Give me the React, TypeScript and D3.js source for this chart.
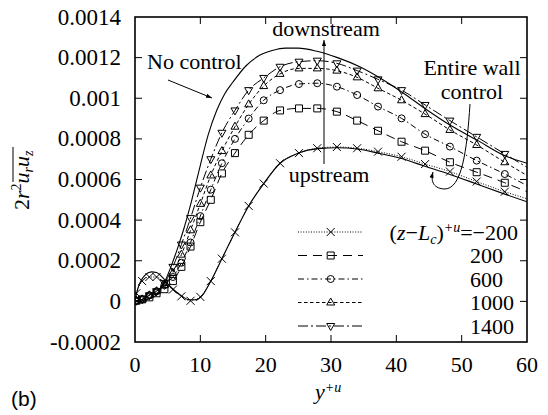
import React from "react";
import * as d3 from "d3";

// ---------- data ----------
const markerYp = [0.2, 1.1, 2.2, 3.3, 4.5, 5.8, 7.1, 8.5, 10.0, 11.6, 13.3, 15.3, 17.4, 19.7, 22.2, 25.1, 27.9, 30.9, 34.0, 37.2, 40.8, 44.4, 48.2, 52.3, 56.6, 60];

const seriesM200 = [0.00004, 0.0001, 0.00012, 0.00012, 0.00009, 0.000058, 0.000025, 0.000003, 0.000022, 0.0001, 0.00021, 0.00034, 0.00047, 0.00058, 0.00068, 0.00073, 0.000754, 0.00076, 0.000754, 0.000737, 0.000712, 0.000676, 0.000639, 0.00059, 0.00054, 0.000505];
const series200 = [0.000003, 0.00001, 0.00002, 0.00004, 0.00006, 0.0001, 0.00017, 0.00027, 0.00039, 0.0005, 0.00063, 0.00073, 0.00082, 0.00089, 0.00094, 0.00095, 0.00095, 0.000934, 0.00089, 0.00084, 0.000786, 0.000742, 0.000685, 0.000636, 0.000584, 0.00054];
const series600 = [0.000003, 0.00001, 0.00003, 0.00005, 0.00008, 0.00012, 0.00019, 0.00029, 0.00042, 0.00055, 0.00068, 0.0008, 0.0009, 0.00099, 0.00104, 0.00107, 0.001074, 0.001057, 0.001016, 0.000959, 0.000901, 0.000823, 0.000762, 0.000693, 0.000627, 0.00057];
const series1000 = [0.000003, 0.00001, 0.00003, 0.00005, 0.00008, 0.00014, 0.00023, 0.00035, 0.00048, 0.00062, 0.00074, 0.00086, 0.00097, 0.00106, 0.00112, 0.001147, 0.001147, 0.001136, 0.001103, 0.001049, 0.00099, 0.000922, 0.000844, 0.00077, 0.000685, 0.00062];
const series1400 = [0.000003, 0.00001, 0.00003, 0.00005, 0.00009, 0.00017, 0.00028, 0.00041, 0.00056, 0.0007, 0.00083, 0.00094, 0.00104, 0.0011, 0.001155, 0.00118, 0.001185, 0.001172, 0.001136, 0.001093, 0.00104, 0.000967, 0.00089, 0.00081, 0.000726, 0.00066];

const noControlYp = [0, 2, 3.5, 4.6, 5.5, 6.5, 7.5, 8.7, 10, 11.2, 12.5, 13.7, 15, 17, 19, 21, 23, 25, 28, 31, 34.4, 37.5, 41.1, 44.7, 48.2, 52.3, 56.4, 60];
const noControlVal = [0, 0.00001, 0.00004, 0.0001, 0.00017, 0.00026, 0.00036, 0.0005, 0.00067, 0.00082, 0.00094, 0.00102, 0.00108, 0.00116, 0.00121, 0.001235, 0.001247, 0.001247, 0.00123, 0.0012, 0.001155, 0.0011, 0.001025, 0.000942, 0.000868, 0.000795, 0.00072, 0.00068];

const entireYp = [0, 0.4, 0.9, 1.5, 2.5, 3.3, 4.2, 5.2, 6.2, 7.2, 8.3, 9.3, 10.3, 11.6, 13.3, 15.3, 17.4, 19.7, 22.2, 25, 28, 31, 34, 37.2, 40.8, 44.4, 48.2, 52.3, 56.6, 60];
const entireVal = [0, 0.00006, 0.0001, 0.000128, 0.000145, 0.000142, 0.000118, 0.00008, 0.00005, 0.000025, 0.000008, 0.000008, 0.00003, 0.0001, 0.00021, 0.00034, 0.00047, 0.00058, 0.00068, 0.00073, 0.000752, 0.000756, 0.00075, 0.00073, 0.000703, 0.000665, 0.000625, 0.000578, 0.000528, 0.00049];

const legendLabels = ["-200", "200", "600", "1000", "1400"];
const xTicks = [0, 10, 20, 30, 40, 50, 60];
const yTicks = [-0.0002, 0, 0.0002, 0.0004, 0.0006, 0.0008, 0.001, 0.0012, 0.0014];
const yTickLabels = ["-0.0002", "0", "0.0002", "0.0004", "0.0006", "0.0008", "0.001", "0.0012", "0.0014"];

// ---------- layout ----------
const W = 548, H = 415;
const L = 135, R = 527, T = 17, B = 342;
const x = d3.scaleLinear().domain([0, 60]).range([L, R]);
const y = d3.scaleLinear().domain([-0.0002, 0.0014]).range([B, T]);
const SERIF = "Liberation Serif";
const SANS = "Liberation Sans";

type MarkerKind = "x" | "square" | "circle" | "up" | "down";
function markerPath(kind: MarkerKind): string {
  switch (kind) {
    case "x": return "M-4,-4L4,4M-4,4L4,-4";
    case "square": return "M-3.5,-3.5H3.5V3.5H-3.5Z";
    case "circle": return "M3.5,0A3.5,3.5 0 1,1 -3.5,0A3.5,3.5 0 1,1 3.5,0Z";
    case "up": return "M0,-4.5L4,2.5L-4,2.5Z";
    case "down": return "M0,4.5L4,-2.5L-4,-2.5Z";
  }
}

const series = [
  { vals: seriesM200, marker: "x" as MarkerKind, dash: "1,1.6" },
  { vals: series200, marker: "square" as MarkerKind, dash: "9,6" },
  { vals: series600, marker: "circle" as MarkerKind, dash: "6,3,1.5,3" },
  { vals: series1000, marker: "up" as MarkerKind, dash: "3.5,2.5" },
  { vals: series1400, marker: "down" as MarkerKind, dash: "10,3,2,3" },
];

const line = d3.line<[number, number]>().x(d => x(d[0])).y(d => y(d[1])).curve(d3.curveMonotoneX);

export default function App() {
  const legRowY = (i: number) => 232 + i * 23.5;
  const serif = { fontFamily: SERIF };
  return (
    <svg width={W} height={H} style={{ position: "absolute", left: 0, top: 0, background: "#fff", fontFamily: SERIF }}>
      <defs>
        <marker id="ah" viewBox="0 0 10 10" refX="10" refY="5" markerWidth="6" markerHeight="6" orient="auto-start-reverse">
          <path d="M0,1.5L10,5L0,8.5Z" fill="#000" />
        </marker>
        <clipPath id="clip"><rect x={L} y={T} width={R - L} height={B - T} /></clipPath>
      </defs>
      <rect x={0} y={0} width={W} height={H} fill="#fff" />
      <g clipPath="url(#clip)">
        <path d={line(noControlYp.map((v, i) => [v, noControlVal[i]]) as [number, number][]) || ""} fill="none" stroke="#000" strokeWidth={1.1} />
        <path d={line(entireYp.map((v, i) => [v, entireVal[i]]) as [number, number][]) || ""} fill="none" stroke="#000" strokeWidth={1.1} />
        {series.map((s, si) => (
          <g key={si}>
            <path d={line(markerYp.map((v, i) => [v, s.vals[i]]) as [number, number][]) || ""} fill="none" stroke="#000" strokeWidth={1} strokeDasharray={s.dash} />
            {markerYp.slice(0, markerYp.length - 1).map((v, i) => (
              <path key={i} d={markerPath(s.marker)} transform={`translate(${x(v)},${y(s.vals[i])})`} fill="none" stroke="#000" strokeWidth={1} />
            ))}
          </g>
        ))}
      </g>

      {/* frame */}
      <rect x={L} y={T} width={R - L} height={B - T} fill="none" stroke="#000" strokeWidth={1.6} />
      {/* ticks */}
      {xTicks.map((t, i) => (
        <g key={"xt" + i}>
          {i > 0 && i < xTicks.length - 1 && (
            <>
              <line x1={x(t)} x2={x(t)} y1={B} y2={B - 7} stroke="#000" strokeWidth={1} />
              <line x1={x(t)} x2={x(t)} y1={T} y2={T + 7} stroke="#000" strokeWidth={1} />
            </>
          )}
          <text x={x(t)} y={372} textAnchor="middle" fontSize={22} style={serif}>{t}</text>
        </g>
      ))}
      {yTicks.map((t, i) => (
        <g key={"yt" + i}>
          {i > 0 && i < yTicks.length - 1 && (
            <>
              <line x1={L} x2={L + 7} y1={y(t)} y2={y(t)} stroke="#000" strokeWidth={1} />
              <line x1={R} x2={R - 7} y1={y(t)} y2={y(t)} stroke="#000" strokeWidth={1} />
            </>
          )}
          <text x={121} y={y(t) + 7.5} textAnchor="end" fontSize={23} style={serif}>{yTickLabels[i]}</text>
        </g>
      ))}

      {/* axis titles */}
      <text x={315} y={399} fontSize={22} style={serif}>
        <tspan fontStyle="italic">y</tspan>
        <tspan fontSize={14} fontStyle="italic" dy={-7}>+u</tspan>
      </text>
      <g transform="translate(29,178) rotate(-90)">
        <text x={-32} y={0} fontSize={22} style={serif}>
          2<tspan fontStyle="italic">r</tspan>
          <tspan fontSize={14} dy={-8}>2</tspan>
          <tspan fontStyle="italic" dy={8}>u</tspan>
          <tspan fontSize={14} fontStyle="italic" dy={4}>r</tspan>
          <tspan fontStyle="italic" dy={-4}>u</tspan>
          <tspan fontSize={14} fontStyle="italic" dy={4}>z</tspan>
        </text>
        <line x1={-4} x2={31} y1={-16} y2={-16} stroke="#000" strokeWidth={1} />
      </g>
      <text x={11} y={406} fontSize={21} style={{ fontFamily: SANS }}>(b)</text>

      {/* annotations */}
      <text x={147} y={69} fontSize={22} style={serif}>No control</text>
      <line x1={168} y1={80} x2={212} y2={98} stroke="#000" strokeWidth={1} markerEnd="url(#ah)" />
      <text x={326} y={36} fontSize={22} textAnchor="middle" style={serif}>downstream</text>
      <text x={329} y={182} fontSize={22} textAnchor="middle" style={serif}>upstream</text>
      <line x1={324} y1={164} x2={324} y2={40} stroke="#000" strokeWidth={1} markerEnd="url(#ah)" />
      <text x={472} y={75} fontSize={22} textAnchor="middle" style={serif}>Entire wall</text>
      <text x={472} y={99} fontSize={22} textAnchor="middle" style={serif}>control</text>
      <path d="M470,104 C467,150 462,190 444,189 C432,188 431,180 433,172" fill="none" stroke="#000" strokeWidth={1} markerEnd="url(#ah)" />

      {/* legend */}
      {series.map((s, i) => (
        <g key={"lg" + i}>
          <line x1={298} x2={363} y1={legRowY(i)} y2={legRowY(i)} stroke="#000" strokeWidth={1} strokeDasharray={s.dash} />
          <path d={markerPath(s.marker)} transform={`translate(330.7,${legRowY(i)})`} fill="none" stroke="#000" strokeWidth={1} />
          {i === 0 ? (
            <text x={518} y={legRowY(i) + 7.5} fontSize={22} textAnchor="end" style={serif}>
              (<tspan fontStyle="italic">z</tspan>−<tspan fontStyle="italic">L</tspan>
              <tspan fontSize={14} fontStyle="italic" dy={4}>c</tspan>
              <tspan dy={-4}>)</tspan>
              <tspan fontSize={14} fontStyle="italic" dy={-8}>+u</tspan>
              <tspan dy={8}>=−200</tspan>
            </text>
          ) : (
            <text x={470} y={legRowY(i) + 7.5} fontSize={22} style={serif}>{legendLabels[i]}</text>
          )}
        </g>
      ))}
    </svg>
  );
}
